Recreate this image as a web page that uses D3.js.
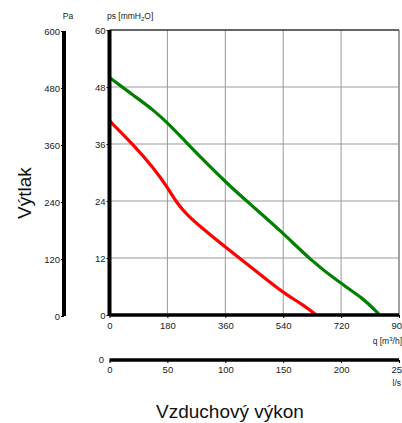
<!DOCTYPE html>
<html><head><meta charset="utf-8">
<script src="https://cdn.jsdelivr.net/npm/d3@7/dist/d3.min.js"></script>
<style>body{margin:0;background:#fff}svg{display:block;font-family:"Liberation Sans",Arial,sans-serif}</style>
</head><body>
<script>
const qTicks = [0,180,360,540,720,900];
const psTicks = [0,12,24,36,48,60];
const paTicks = [0,120,240,360,480,600];
const lsTicks = [0,50,100,150,200,250];
const greenQ = [0,75,138,184,231,282,365,438,541,624,717,789,836];
const greenP = [50,46.2,43.1,40.2,36.9,33.3,27.7,23.3,17.2,11.6,6.7,3.5,0.3];
const redQ = [0,75,138,179,210,241,282,365,438,500,551,603,639];
const redP = [40.9,35.8,30.9,27.0,23.5,21.1,18.6,14.0,10.2,6.8,4.2,2.1,0.2];

const W=402,H=423;
const svg=d3.select("body").append("svg").attr("width",W).attr("height",H);
const L=109.5,R=399,T=30,B=315;
const x=d3.scaleLinear().domain([0,900]).range([L,R]);
const y=d3.scaleLinear().domain([0,60]).range([B,T]);
const yPa=d3.scaleLinear().domain([0,600]).range([B+1,T+1]);
const xLs=d3.scaleLinear().domain([0,250]).range([L,R]);

// grid
const g=svg.append("g");
g.selectAll(".vg").data(qTicks.slice(1)).join("line")
 .attr("x1",d=>x(d)).attr("x2",d=>x(d)).attr("y1",T).attr("y2",B)
 .attr("stroke",d=>d===900?"#444":"#999").attr("stroke-width",1);
g.selectAll(".hg").data(psTicks.slice(1)).join("line")
 .attr("y1",d=>y(d)).attr("y2",d=>y(d)).attr("x1",L).attr("x2",R)
 .attr("stroke",d=>d===60?"#333":"#999").attr("stroke-width",d=>d===60?1.5:1);

// curves
const line=d3.line().x(d=>x(d[0])).y(d=>y(d[1])).curve(d3.curveBasis);
svg.append("path").datum(greenQ.map((q,i)=>[q,greenP[i]])).attr("d",line)
 .attr("fill","none").attr("stroke","#008000").attr("stroke-width",3.2).attr("stroke-linecap","round");
svg.append("path").datum(redQ.map((q,i)=>[q,redP[i]])).attr("d",line)
 .attr("fill","none").attr("stroke","#ff0000").attr("stroke-width",3.2).attr("stroke-linecap","round");

// ps axis
const ax=svg.append("g").attr("transform",`translate(${L},0)`)
 .call(d3.axisLeft(y).tickValues(psTicks).tickSize(3).tickPadding(1).tickFormat(d3.format("d")));
ax.select(".domain").attr("stroke","#000").attr("stroke-width",4).attr("d",`M0,${T}V${B}`);
ax.selectAll("text").attr("font-size",9.5).attr("fill","#222");
// bottom x axis
const bx=svg.append("g").attr("transform",`translate(0,${B})`)
 .call(d3.axisBottom(x).tickValues(qTicks).tickSize(3).tickPadding(4).tickFormat(d3.format("d")));
bx.select(".domain").attr("stroke","#000").attr("stroke-width",3.5).attr("d",`M${L},0H${R}`);
bx.selectAll("text").attr("font-size",9.5).attr("fill","#222");

// Pa axis
const pa=svg.append("g").attr("transform",`translate(64,0)`)
 .call(d3.axisLeft(yPa).tickValues(paTicks).tickSize(3).tickPadding(1).tickFormat(d3.format("d")));
pa.select(".domain").attr("stroke","#000").attr("stroke-width",4).attr("d",`M0,${T+1}V${B+1}`);
pa.selectAll("text").attr("font-size",9.5).attr("fill","#222");

// l/s axis
const ls=svg.append("g").attr("transform",`translate(0,360)`)
 .call(d3.axisBottom(xLs).tickValues(lsTicks).tickSize(3).tickPadding(3).tickFormat(d3.format("d")));
ls.select(".domain").attr("stroke","#000").attr("stroke-width",3.5).attr("d",`M${L},0H${R}`);
ls.selectAll("text").attr("font-size",9.5).attr("fill","#222");
svg.append("text").attr("x",104).attr("y",363).attr("text-anchor","end").attr("font-size",9.5).attr("fill","#222").text("0");

// labels
svg.append("text").attr("x",68).attr("y",19).attr("text-anchor","middle").attr("font-size",8.5).attr("fill","#222").text("Pa");
const ps=svg.append("text").attr("x",107).attr("y",19).attr("font-size",8.5).attr("fill","#222");
ps.append("tspan").text("ps [mmH");
ps.append("tspan").attr("font-size",6).attr("dy",1.5).text("2");
ps.append("tspan").attr("dy",-1.5).text("O]");
const qt=svg.append("text").attr("x",402).attr("y",344).attr("text-anchor","end").attr("font-size",8.5).attr("fill","#222");
qt.append("tspan").text("q [m");
qt.append("tspan").attr("font-size",6).attr("dy",-3).text("3");
qt.append("tspan").attr("dy",3).text("/h]");
svg.append("text").attr("x",401).attr("y",386).attr("text-anchor","end").attr("font-size",8.5).attr("fill","#222").text("l/s");
svg.append("text").attr("x",230).attr("y",418).attr("text-anchor","middle").attr("font-size",19).attr("fill","#111").text("Vzduchový výkon");
svg.append("text").attr("transform","translate(31,193) rotate(-90)").attr("text-anchor","middle").attr("font-size",19).attr("fill","#111").text("Výtlak");
</script>
</body></html>
